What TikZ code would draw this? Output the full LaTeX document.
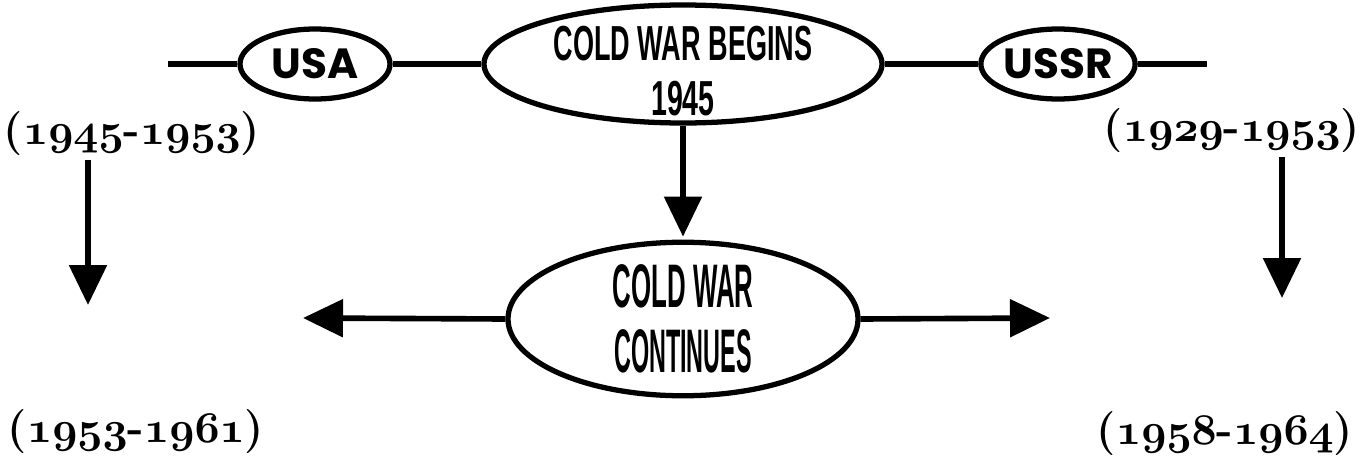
\documentclass[tikz,border=0pt]{standalone}
\usepackage{fontspec}
\usepackage{graphicx}
\usepackage{tikz}
\usetikzlibrary{shapes,arrows.meta,positioning}
\newfontfamily\decofont{Liberation Sans}
\newfontfamily\roundfont{Poppins}
\newcommand{\deco}[2][0.5]{\scalebox{#1}[1]{#2}}
\newcommand{\osn}[1]{{\boldmath$\mathnormal{#1}$}}
\newcommand{\yrs}[2]{(\osn{#1}-\osn{#2})}

\begin{document}
\begin{tikzpicture}[node distance=1.6cm, every node/.style={font=\small},
  bubble/.style={ellipse, draw, line width=3pt, inner sep=0pt, align=center},
  years/.style={font=\bfseries\fontsize{25}{27}\selectfont, inner sep=2pt},
  link/.style={line width=3.2pt},
  bigarrow/.style={line width=3.2pt, -{Triangle[length=0.8cm, width=0.74cm]}}]
\useasboundingbox (0,0) rectangle (27.4,-9.18);
% top row
\node[bubble, minimum width=7.96cm, minimum height=2.36cm,
  label={[align=center, yshift=-0.14cm, font=\decofont\bfseries\fontsize{28}{31}\selectfont]center:{\deco[0.55]{COLD WAR BEGINS}\\\deco[0.58]{1945}}}] (begins) at (13.66,-1.28) {};
\node[bubble, minimum width=3cm, minimum height=1.4cm, font=\roundfont\bfseries\fontsize{24}{26}\selectfont, left of=begins, node distance=7.36cm] (usa) {USA};
\node[bubble, minimum width=3cm, minimum height=1.4cm, font=\roundfont\bfseries\fontsize{24}{26}\selectfont, right of=begins, node distance=7.5cm] (ussr) {USSR};
\coordinate (lend) at (3.36,-1.28);
\coordinate (rend) at (24.14,-1.28);
\draw[link] (lend) -- (usa);
\draw[link] (usa) -- (begins);
\draw[link] (begins) -- (ussr);
\draw[link] (ussr) -- (rend);
% middle
\node[bubble, minimum width=7cm, minimum height=2.64cm, font=\decofont\bfseries\fontsize{35}{37}\selectfont, below of=begins, node distance=5.1cm] (continues) {\deco[0.42]{COLD WAR}\\\deco[0.38]{CONTINUES}};
\draw[bigarrow, shorten >=0.06cm] (begins.south) -- (begins.south |- continues.north);
\coordinate (ltip) at (6.06,-6.36);
\coordinate (rtip) at (21.0,-6.36);
\draw[bigarrow] (continues.west) -- (ltip);
\draw[bigarrow] (continues.east) -- (rtip);
% dates
\node[years] (usa1) at (2.64,-2.68) {\yrs{1945}{1953}};
\node[years] (ussr1) at (24.64,-2.62) {\yrs{1929}{1953}};
\node[years] (usa2) at (2.72,-8.64) {\yrs{1953}{1961}};
\node[years] (ussr2) at (24.5,-8.68) {\yrs{1958}{1964}};
\coordinate (ldown) at (1.76,-6.1);
\coordinate (rdown) at (25.64,-5.96);
\draw[bigarrow] (usa1.south -| ldown) -- (ldown);
\draw[bigarrow] (ussr1.south -| rdown) -- (rdown);
\end{tikzpicture}
\end{document}
